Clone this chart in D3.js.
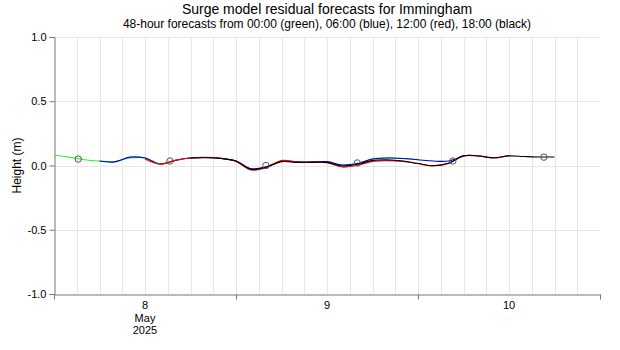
<!DOCTYPE html>
<html>
<head>
<meta charset="utf-8">
<script src="https://cdn.jsdelivr.net/npm/d3@7"></script>
<style>
  body { margin: 0; background: #fff; }
  text { font-family: "Liberation Sans", Arial, sans-serif; }
</style>
</head>
<body>
<div id="cont"></div>
<script>
// Surge residual forecasts, Immingham

// Data: hours after 8 May 2025 00:00, residual height (m)
var greenHours = [0,2,4,6,8,10,12,14,16,18,20,22,24,26,28,30,32,34,36,38,40,42,44,46,48];
var greenVals  = [0.08,0.065,0.045,0.035,0.03,0.058,0.06,0.015,0.04,0.058,0.062,0.056,0.035,-0.028,-0.012,0.035,0.028,0.026,0.026,0.002,0.012,0.052,0.06,0.055,0.045];

var blueHours = [6,8,10,12,14,16,18,20,22,24,26,28,30,32,34,36,38,40,42,44,46,48,50,52,54];
var blueVals  = [0.035,0.028,0.065,0.058,0.012,0.04,0.058,0.062,0.056,0.035,-0.025,-0.01,0.035,0.026,0.028,0.03,0.004,0.015,0.05,0.058,0.055,0.045,0.035,0.035,0.075];

var redHours = [12,14,16,18,20,22,24,26,28,30,32,34,36,38,40,42,44,46,48,50,52,54,56,58,60];
var redVals  = [0.05,0.01,0.04,0.06,0.064,0.056,0.032,-0.035,-0.018,0.038,0.03,0.026,0.022,-0.012,0.002,0.032,0.038,0.032,0.015,-0.002,0.015,0.075,0.075,0.058,0.078];

var blackHours = [18,20,22,24,26,28,30,32,34,36,38,40,42,44,46,48,50,52,54,56,58,60,62,64,66];
var blackVals  = [0.058,0.06,0.054,0.035,-0.03,-0.012,0.03,0.024,0.024,0.024,-0.004,0.01,0.04,0.045,0.035,0.015,-0.002,0.018,0.075,0.074,0.06,0.075,0.07,0.066,0.066];

// high water markers
var hwHours = [3.2,15.3,27.95,40,52.6,64.6];
var hwVals  = [0.05,0.035,0.0,0.02,0.035,0.065];

var yTicks = [-1, -0.5, 0, 0.5, 1];

var W = 620, H = 350;
var pLeft = 54, pRight = 600, pTop = 37, pBottom = 294;

var t0 = new Date(2025, 4, 8, 0, 0);
function hrs(h) { return new Date(t0.getTime() + h * 3600000); }

var svg = d3.select("#cont").append("svg")
    .attr("width", W)
    .attr("height", H);

var x = d3.scaleTime()
    .domain([t0, hrs(72)])
    .range([pLeft, pRight]);

var y = d3.scaleLinear()
    .domain([-1, 1])
    .range([pBottom, pTop]);

// grid
var gridTimes = d3.range(3, 72, 3).map(hrs);
svg.append("g").selectAll("line")
    .data(gridTimes)
    .enter().append("line")
    .attr("x1", function(d) { return Math.round(x(d)) + 0.5; })
    .attr("x2", function(d) { return Math.round(x(d)) + 0.5; })
    .attr("y1", pTop)
    .attr("y2", pBottom)
    .attr("stroke", "#e6e6e6")
    .attr("stroke-width", 1);

svg.append("g").selectAll("line")
    .data(yTicks.slice(1))
    .enter().append("line")
    .attr("x1", pLeft)
    .attr("x2", pRight)
    .attr("y1", function(d) { return Math.round(y(d)) + 0.5; })
    .attr("y2", function(d) { return Math.round(y(d)) + 0.5; })
    .attr("stroke", "#e6e6e6")
    .attr("stroke-width", 1);

// axes
var yAxis = d3.axisLeft(y)
    .tickValues(yTicks)
    .tickSize(5)
    .tickPadding(3);

var gy = svg.append("g")
    .attr("transform", "translate(" + (pLeft + 0.5) + ",0)")
    .call(yAxis);
gy.select(".domain").attr("stroke", "#777");
gy.selectAll(".tick line").attr("stroke", "#777");
gy.selectAll(".tick text").attr("font-size", 11).attr("fill", "#000")
    .attr("font-family", "Liberation Sans, Arial, sans-serif")
    .text(function(d) { return d3.format(".1f")(d).replace("\u2212", "-"); });

var xAxis = d3.axisBottom(x)
    .tickValues([0, 24, 48, 72].map(hrs))
    .tickFormat("")
    .tickSize(5)
    .tickSizeOuter(0);

var gx = svg.append("g")
    .attr("transform", "translate(0," + (pBottom + 0.5) + ")")
    .call(xAxis);
gx.select(".domain").attr("stroke", "#777");
gx.selectAll(".tick line").attr("stroke", "#777");

var dayLabels = [
  {h: 12, lines: ["8", "May", "2025"]},
  {h: 36, lines: ["9"]},
  {h: 60, lines: ["10"]}
];
dayLabels.forEach(function(d) {
  var t = svg.append("text")
      .attr("x", x(hrs(d.h)))
      .attr("y", pBottom + 15)
      .attr("text-anchor", "middle")
      .attr("font-size", 11)
      .attr("fill", "#000");
  d.lines.forEach(function(s, i) {
    t.append("tspan")
      .attr("x", x(hrs(d.h)))
      .attr("dy", i === 0 ? 0 : 12.5)
      .text(s);
  });
});

// series
var line = d3.line()
    .x(function(d) { return x(d.t); })
    .y(function(d) { return y(d.v); })
    .curve(d3.curveCatmullRom);

function pack(hs, vs) {
  return hs.map(function(h, i) { return {t: hrs(h), v: vs[i]}; });
}

var series = [
  {c: "#33ee33", d: pack(greenHours, greenVals)},
  {c: "#0000cc", d: pack(blueHours, blueVals)},
  {c: "#ee0000", d: pack(redHours, redVals)},
  {c: "#000000", d: pack(blackHours, blackVals)}
];

svg.append("g").selectAll("path")
    .data(series)
    .enter().append("path")
    .attr("d", function(s) { return line(s.d); })
    .attr("fill", "none")
    .attr("stroke", function(s) { return s.c; })
    .attr("stroke-width", 1.1);

svg.append("g").selectAll("circle")
    .data(pack(hwHours, hwVals))
    .enter().append("circle")
    .attr("cx", function(d) { return x(d.t); })
    .attr("cy", function(d) { return y(d.v); })
    .attr("r", 3.2)
    .attr("fill", "none")
    .attr("stroke", "#555")
    .attr("stroke-width", 1);

// titles
svg.append("text")
    .attr("x", 327)
    .attr("y", 14)
    .attr("text-anchor", "middle")
    .attr("font-size", 14)
    .text("Surge model residual forecasts for Immingham");

svg.append("text")
    .attr("x", 327)
    .attr("y", 28)
    .attr("text-anchor", "middle")
    .attr("font-size", 12)
    .text("48-hour forecasts from 00:00 (green), 06:00 (blue), 12:00 (red), 18:00 (black)");

svg.append("text")
    .attr("transform", "translate(21," + y(0) + ") rotate(-90)")
    .attr("text-anchor", "middle")
    .attr("font-size", 12)
    .text("Height (m)");
</script>
</body>
</html>
